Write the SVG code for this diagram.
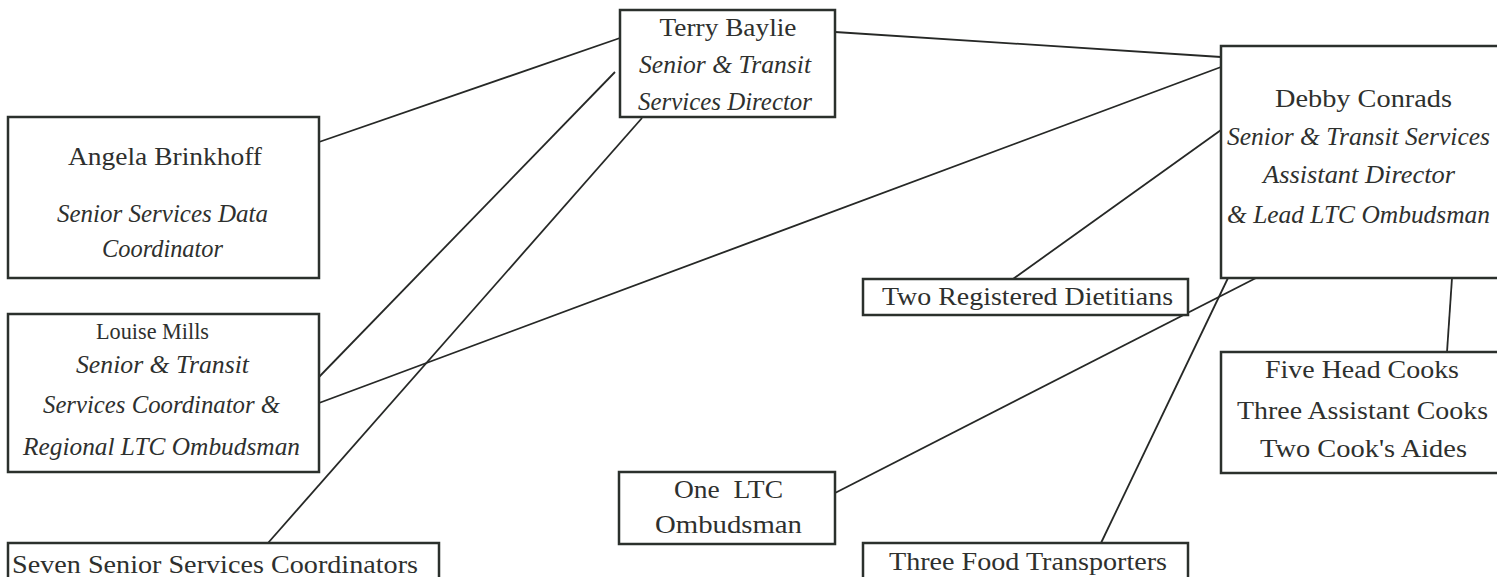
<svg xmlns="http://www.w3.org/2000/svg" width="1497" height="577" viewBox="0 0 1497 577">
<style>
.box{fill:#fff;stroke:#2b302c;stroke-width:2.5}
.ln{stroke:#262826;stroke-width:1.8;fill:none}
text{font-family:"Liberation Serif","Times New Roman",serif;font-size:26px;fill:#2e302e}
.c{text-anchor:middle}
.i{font-style:italic;font-size:25px}
</style>
<rect width="1497" height="577" fill="#fff"/>
<g id="connectors">
<line class="ln" x1="319" y1="142" x2="620" y2="38"/>
<line class="ln" x1="319" y1="377" x2="615" y2="72"/>
<line class="ln" x1="642" y1="118" x2="268" y2="543"/>
<line class="ln" x1="835" y1="32" x2="1221" y2="57"/>
<line class="ln" x1="319" y1="403" x2="1221" y2="67"/>
<line class="ln" x1="1221" y1="130" x2="1013" y2="279"/>
<line class="ln" x1="1256" y1="278" x2="835" y2="493"/>
<line class="ln" x1="1228" y1="278" x2="1101" y2="543"/>
<line class="ln" x1="1452" y1="278" x2="1447" y2="352"/>
</g>
<g id="terry">
<rect class="box" x="620" y="10" width="215" height="107"/>
<text class="c" x="728" y="36" textLength="137" lengthAdjust="spacingAndGlyphs">Terry Baylie</text>
<text class="c i" x="725" y="73" textLength="172" lengthAdjust="spacingAndGlyphs">Senior &amp; Transit</text>
<text class="c i" x="725" y="110" textLength="174" lengthAdjust="spacingAndGlyphs">Services Director</text>
</g>
<g id="angela">
<rect class="box" x="8" y="117" width="311" height="161"/>
<text class="c" x="165" y="165" textLength="194" lengthAdjust="spacingAndGlyphs">Angela Brinkhoff</text>
<text class="c i" x="162.5" y="222" textLength="211" lengthAdjust="spacingAndGlyphs">Senior Services Data</text>
<text class="c i" x="162.5" y="257" textLength="121" lengthAdjust="spacingAndGlyphs">Coordinator</text>
</g>
<g id="louise">
<rect class="box" x="8" y="314" width="311" height="158"/>
<text class="c" x="152.5" y="339" style="font-size:23px" textLength="113" lengthAdjust="spacingAndGlyphs">Louise Mills</text>
<text class="c i" x="162.5" y="373" textLength="173" lengthAdjust="spacingAndGlyphs">Senior &amp; Transit</text>
<text class="c i" x="161.5" y="413" textLength="237" lengthAdjust="spacingAndGlyphs">Services Coordinator &amp;</text>
<text class="c i" x="161.5" y="455" textLength="277" lengthAdjust="spacingAndGlyphs">Regional LTC Ombudsman</text>
</g>
<g id="seven">
<rect class="box" x="8" y="543" width="431" height="45"/>
<text x="12" y="573" textLength="406" lengthAdjust="spacingAndGlyphs">Seven Senior Services Coordinators</text>
</g>
<g id="one-ltc">
<rect class="box" x="619" y="472" width="216" height="72"/>
<text class="c" x="728.5" y="498" textLength="109" lengthAdjust="spacingAndGlyphs" xml:space="preserve">One  LTC</text>
<text class="c" x="728.5" y="533" textLength="147" lengthAdjust="spacingAndGlyphs">Ombudsman</text>
</g>
<g id="dietitians">
<rect class="box" x="863" y="279" width="325" height="36"/>
<text class="c" x="1027.5" y="305" textLength="291" lengthAdjust="spacingAndGlyphs">Two Registered Dietitians</text>
</g>
<g id="food">
<rect class="box" x="863" y="543" width="325" height="45"/>
<text class="c" x="1028" y="570" textLength="278" lengthAdjust="spacingAndGlyphs">Three Food Transporters</text>
</g>
<g id="debby">
<rect class="box" x="1221" y="46" width="290" height="232"/>
<text class="c" x="1363.5" y="107" textLength="177" lengthAdjust="spacingAndGlyphs">Debby Conrads</text>
<text class="c i" x="1358.5" y="145" textLength="263" lengthAdjust="spacingAndGlyphs">Senior &amp; Transit Services</text>
<text class="c i" x="1359" y="183" textLength="192" lengthAdjust="spacingAndGlyphs">Assistant Director</text>
<text class="c i" x="1358.5" y="223" textLength="263" lengthAdjust="spacingAndGlyphs">&amp; Lead LTC Ombudsman</text>
</g>
<g id="cooks">
<rect class="box" x="1221" y="352" width="290" height="121"/>
<text class="c" x="1362" y="378" textLength="194" lengthAdjust="spacingAndGlyphs">Five Head Cooks</text>
<text class="c" x="1362.5" y="419" textLength="251" lengthAdjust="spacingAndGlyphs">Three Assistant Cooks</text>
<text class="c" x="1363.5" y="457" textLength="207" lengthAdjust="spacingAndGlyphs">Two Cook's Aides</text>
</g>
</svg>
